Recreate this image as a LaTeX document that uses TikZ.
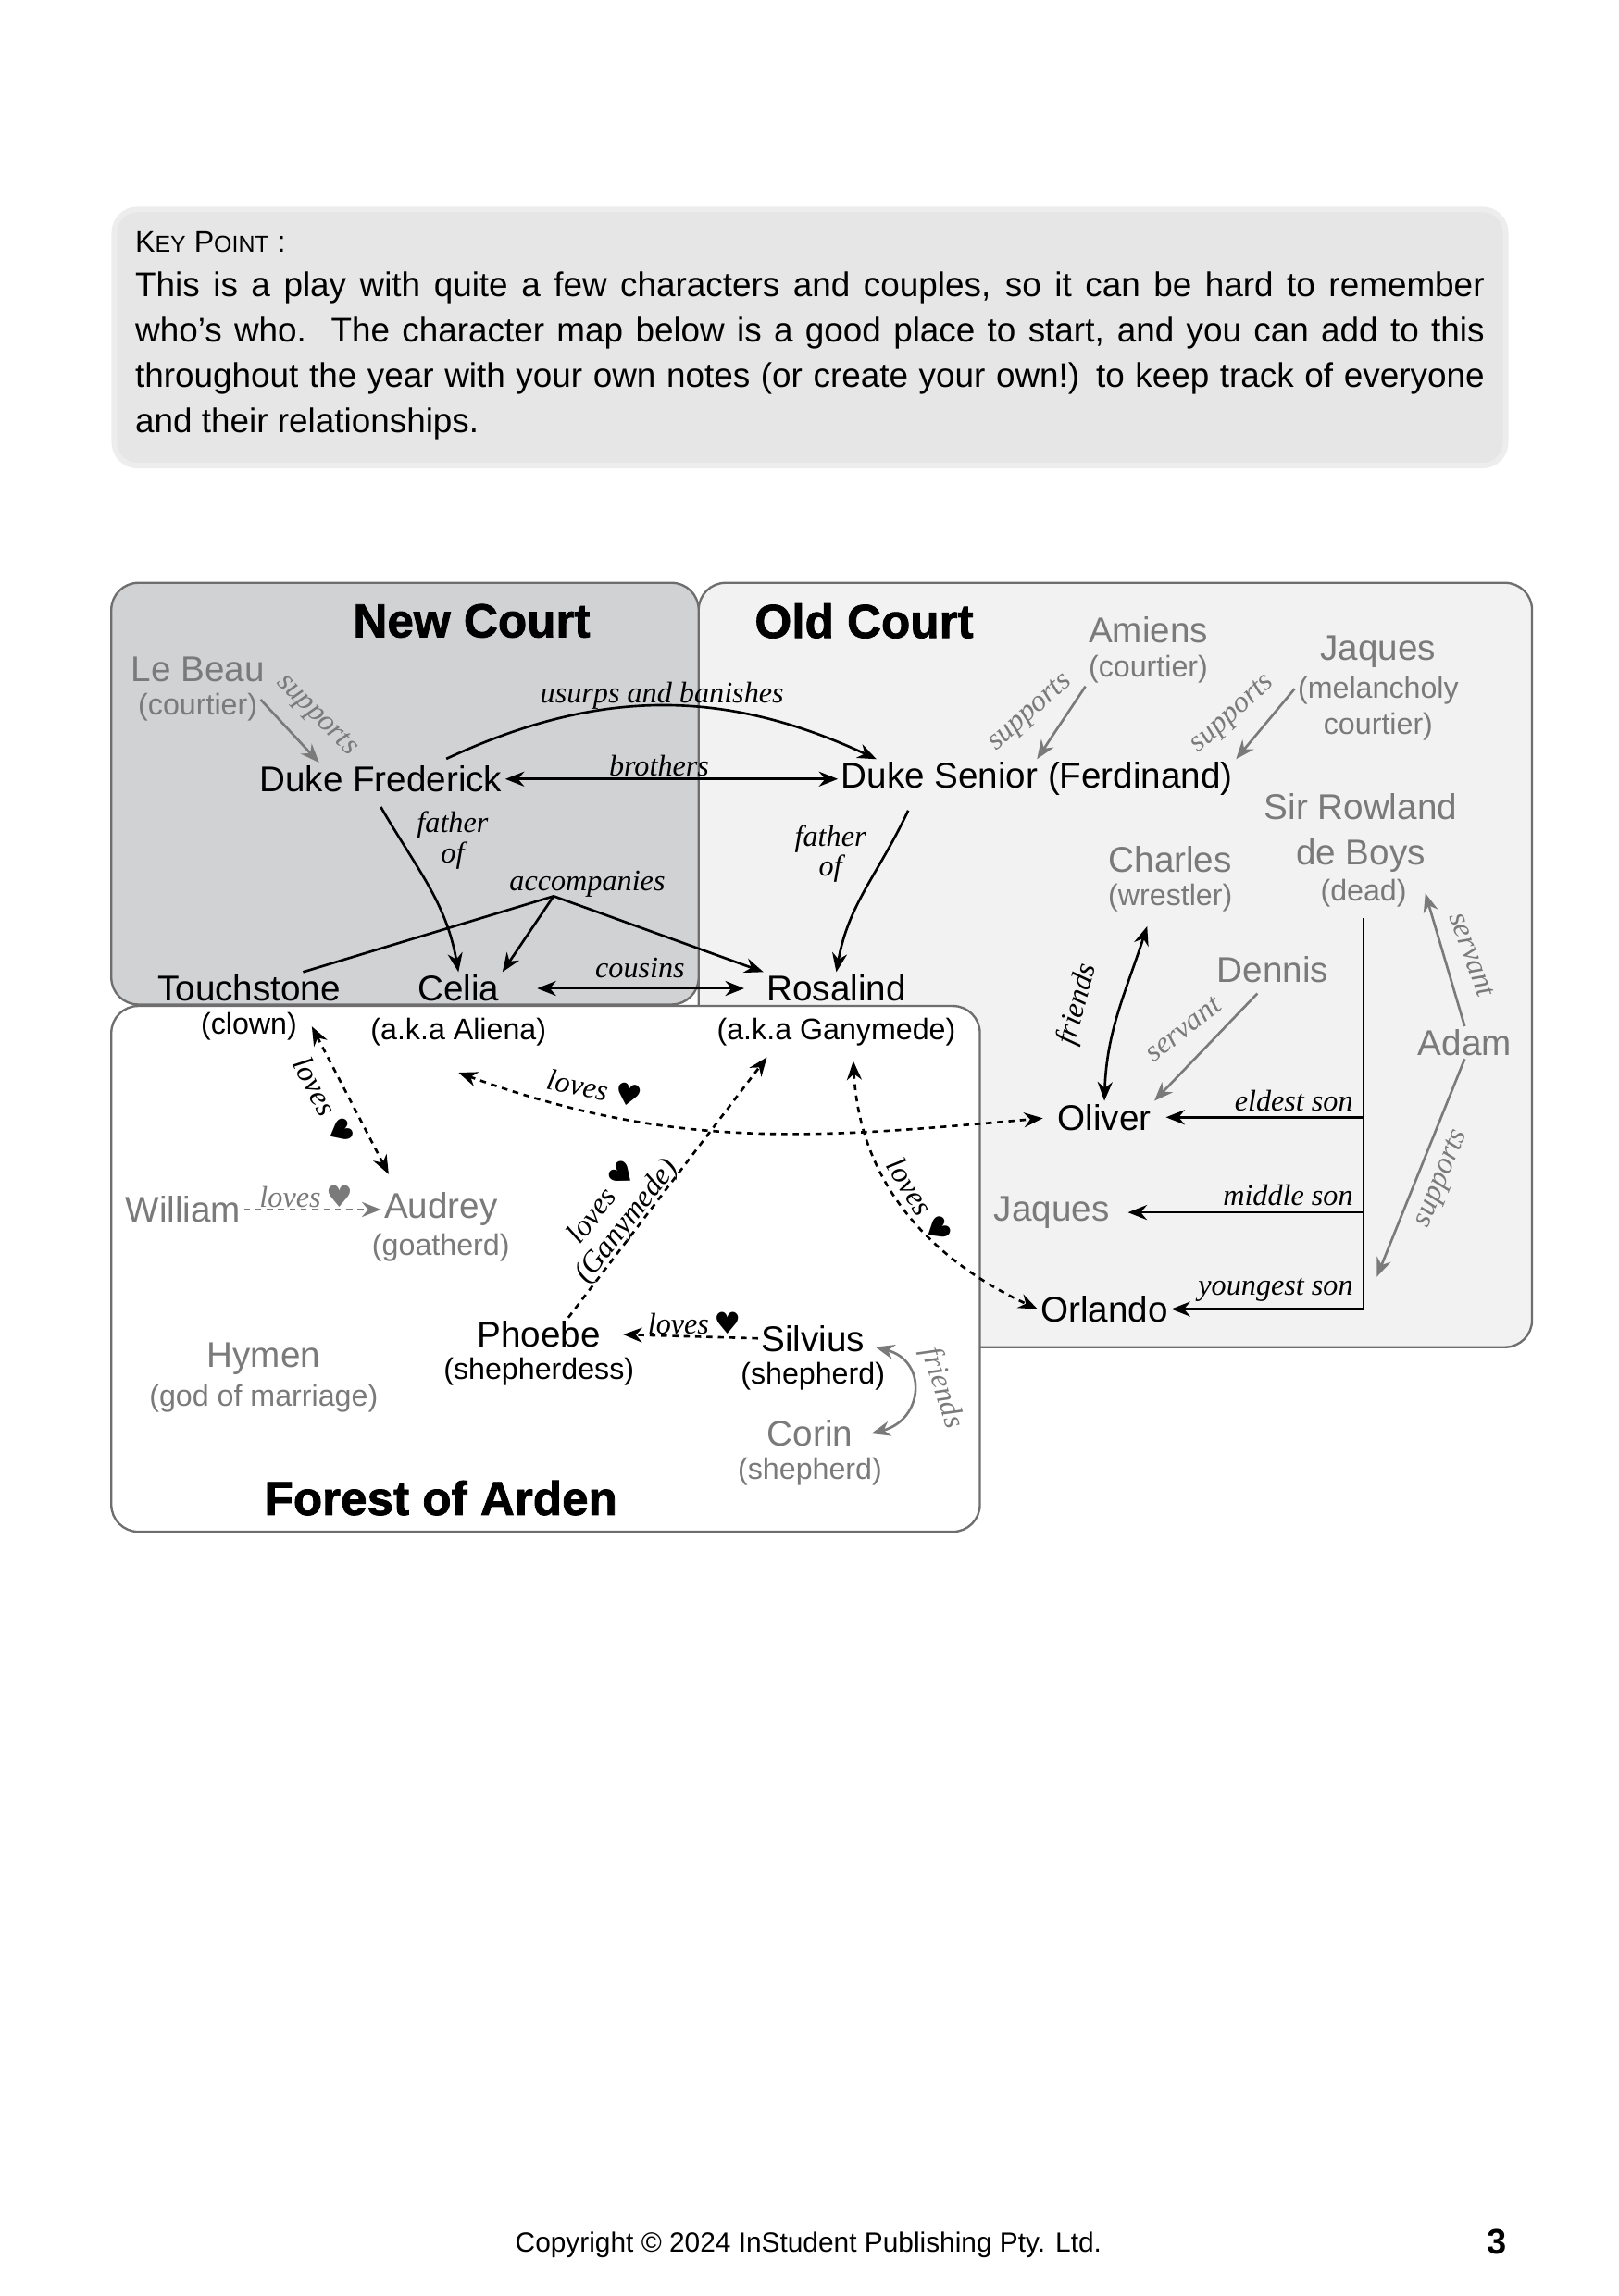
\documentclass[tikz,border=0pt]{standalone}
\usepackage{fontspec}
\usepackage{xcolor}
\usepackage{tikz}
\usetikzlibrary{arrows.meta}
\setmainfont{Liberation Sans}
\newfontfamily\titlefont{Liberation Sans}[BoldFeatures={FakeBold=1.5}]
\newfontfamily\handfont{Liberation Serif}
\newfontfamily\symfont{DejaVu Sans}
\definecolor{KeyFill}{HTML}{E6E6E6}
\definecolor{KeyEdge}{HTML}{EDEDED}
\definecolor{NewFill}{HTML}{D1D2D4}
\definecolor{OldFill}{HTML}{F2F2F2}
\definecolor{BoxEdge}{HTML}{6E6E6E}
\definecolor{Faded}{HTML}{7A7A7A}
\newcommand{\hrt}{{\symfont ♥}}

\tikzset{
  person/.style={font=\fontsize{13.2}{16.75}\selectfont, inner sep=1pt},
  role/.style={font=\fontsize{11}{13.5}\selectfont, inner sep=1pt},
  faded/.style={text=Faded},
  area/.style={font=\titlefont\bfseries\fontsize{17.5}{20}\selectfont, inner sep=1pt},
  rel/.style={font=\handfont\itshape\fontsize{11}{9}\selectfont, inner sep=1pt},
  courtbox/.style={draw=BoxEdge, rounded corners=0.35cm, line width=0.8pt},
  tie/.style={line width=0.9pt, -{Stealth[length=7pt,width=5.5pt]}},
  bitie/.style={line width=0.9pt, {Stealth[length=7pt,width=5.5pt]}-{Stealth[length=7pt,width=5.5pt]}},
  fadedtie/.style={tie, draw=Faded},
  fadedbitie/.style={bitie, draw=Faded},
  lovetie/.style={bitie, dash pattern=on 2.2pt off 2pt},
  loveone/.style={tie, dash pattern=on 2.2pt off 2pt},
}

\begin{document}
\begin{tikzpicture}[x=0.019cm, y=-0.019cm]
\useasboundingbox (0,0) rectangle (1105,1568);
% key point box
\draw[KeyEdge, fill=KeyFill, line width=2pt, rounded corners=0.3cm] (78,143) rectangle (1028,318);
\node[anchor=west, inner sep=0pt, font=\fontsize{11}{13}\selectfont] (keyhead) at (92,165) {K{\fontsize{8.5}{10}\selectfont EY} P{\fontsize{8.5}{10}\selectfont OINT} :};
\node[anchor=north west, align=left, inner sep=0pt, font=\fontsize{12.6}{16.75}\selectfont] (keytext) at (92,185) {%
\hbox to 17.5cm{This is a play with quite a few characters and couples, so it can be hard to remember}\\
\hbox to 17.5cm{who’s who.\ \ The character map below is a good place to start, and you can add to this}\\
\hbox to 17.5cm{throughout the year with your own notes (or create your own!) to keep track of everyone}\\
and their relationships.};

% the three places
\draw[courtbox, fill=OldFill] (477,398) rectangle (1046,920);
\draw[courtbox, fill=NewFill] (76,398) rectangle (477,686);
\draw[courtbox, fill=white] (76,687) rectangle (669,1046);
\node[area] (newcourt) at (322,424) {New Court};
\node[area] (oldcourt) at (590,424) {Old Court};
\node[area] (forest) at (301,1023) {Forest of Arden};

% New Court
\node[person, faded] (lebeau) at (135,457) {Le Beau};
\node[role, faded] (lebeaurole) at (135,483) {(courtier)};
\node[person] (frederick) at (260,532) {Duke Frederick};
\node[person] (touchstone) at (170,675) {Touchstone};
\node[role] (clown) at (170,701) {(clown)};
\node[person] (celia) at (313,675) {Celia};
\node[role] (aliena) at (313,705) {(a.k.a Aliena)};

% Old Court
\node[person] (senior) at (708,532) {Duke Senior (Ferdinand)};
\node[person] (rosalind) at (571,675) {Rosalind};
\node[role] (ganymede) at (571,705) {(a.k.a Ganymede)};
\node[person, faded] (amiens) at (784,430) {Amiens};
\node[role, faded] (amiensrole) at (784,457) {(courtier)};
\node[person, faded] (jaques) at (941,445) {Jaques};
\node[role, faded, align=center] (jaquesrole) at (941,484) {(melancholy\\courtier)};
\node[person, faded, align=center] (rowland) at (929,569) {Sir Rowland\\de Boys};
\node[role, faded] (dead) at (931,610) {(dead)};
\node[person, faded] (charles) at (799,587) {Charles};
\node[role, faded] (wrestler) at (799,613) {(wrestler)};
\node[person, faded] (dennis) at (869,662) {Dennis};
\node[person, faded] (adam) at (1000,712) {Adam};
\node[person] (oliver) at (754,763) {Oliver};
\node[person, faded] (jaquesboys) at (718,828) {Jaques};
\node[person] (orlando) at (754,894) {Orlando};

% Forest of Arden
\node[person, faded] (william) at (125,826) {William};
\node[person, faded] (audrey) at (301,826) {Audrey};
\node[role, faded] (goatherd) at (301,852) {(goatherd)};
\node[person, faded] (hymen) at (180,928) {Hymen};
\node[role, faded] (marriage) at (180,955) {(god of marriage)};
\node[person] (phoebe) at (368,911) {Phoebe};
\node[role] (shepherdess) at (368,937) {(shepherdess)};
\node[person] (silvius) at (555,914) {Silvius};
\node[role] (shepherd) at (555,940) {(shepherd)};
\node[person, faded] (corin) at (553,979) {Corin};
\node[role, faded] (corinrole) at (553,1005) {(shepherd)};

% court links
\draw[fadedtie] ([yshift=0.1cm]lebeaurole.east) -- ([xshift=-0.8cm]frederick.north);
\node[rel, faded, rotate=-45] (lebeausup) at (216,489) {supports};
\draw[tie] ([xshift=0.85cm, yshift=0.05cm]frederick.north) to[out=25, in=155] ([xshift=0.5cm]senior.north west);
\node[rel] (usurps) at (452,475) {usurps and banishes};
\draw[bitie] (frederick.east) -- (senior.west);
\node[rel] (brothers) at (450,523) {brothers};
\draw[tie] ([yshift=-0.15cm]frederick.south) to[out=-60, in=100] (celia.north);
\node[rel, align=center] (fredfather) at (309,574) {father\\of};
\draw[tie] ([xshift=-1.67cm, yshift=-0.15cm]senior.south) to[out=-115, in=80] (rosalind.north);
\node[rel, align=center] (seniorfather) at (567,583) {father\\of};
\coordinate (accomp) at (378,612);
\draw[line width=0.9pt] (accomp) -- (touchstone);
\draw[tie] (accomp) -- (celia.north east);
\draw[tie] (accomp) -- (rosalind.north west);
\node[rel] (accomplabel) at (401,604) {accompanies};
\draw[bitie, shorten <=0.45cm, shorten >=0.25cm] (celia.east) -- (rosalind.west);
\node[rel] (cousins) at (437,661) {cousins};
\draw[fadedtie] (amiensrole.south west) -- (senior.north);
\node[rel, faded, rotate=42] (amienssup) at (704,487) {supports};
\draw[fadedtie] ([yshift=-0.2cm]jaquesrole.north west) -- (senior.north east);
\node[rel, faded, rotate=42] (jaquessup) at (842,488) {supports};

% de Boys family
\draw[line width=0.9pt] ([yshift=-0.1cm]dead.south) -- (dead.south |- orlando);
\draw[tie, shorten >=0.15cm] (dead.south |- oliver) -- (oliver.east);
\node[rel, anchor=east] (eldest) at (926,752) {eldest son};
\draw[tie, shorten >=0.2cm] (dead.south |- jaquesboys) -- (jaquesboys.east);
\node[rel, anchor=east] (middle) at (926,816) {middle son};
\draw[tie] (dead.south |- orlando) -- (orlando.east);
\node[rel, anchor=east] (youngest) at (926,881) {youngest son};
\draw[bitie] ([xshift=-0.3cm, yshift=-0.15cm]wrestler.south) to[out=-108, in=88] (oliver.north);
\node[rel, rotate=75] (friendsoc) at (736,686) {friends};
\draw[fadedtie] ([xshift=-0.2cm, yshift=-0.1cm]dennis.south) -- (oliver.north east);
\node[rel, faded, rotate=38] (dennisserv) at (808,703) {servant};
\draw[fadedtie] (adam.north) -- ([xshift=0.2cm]dead.east);
\node[rel, faded, rotate=-70] (adamserv) at (1005,652) {servant};
\coordinate (orlandobranch) at (940,872);
\draw[fadedtie] (adam.south) -- (orlandobranch);
\node[rel, faded, rotate=68] (adamsup) at (985,805) {supports};

% loves
\draw[lovetie] ([xshift=0.15cm]clown.east) -- ([xshift=0.1cm, yshift=0.2cm]audrey.north west);
\node[rel, rotate=-62] (loveta) at (221,752) {loves \hrt};
\draw[loveone, draw=Faded] (william.east) -- (audrey.west);
\node[rel, faded] (lovewa) at (209,817) {loves\,\hrt};
\draw[lovetie, shorten >=0.15cm] ([yshift=-0.3cm]aliena.south) to[out=-20, in=-175] (oliver.west);
\node[rel, rotate=-12] (loveco) at (406,743) {loves \hrt};
\draw[lovetie] ([xshift=0.22cm, yshift=-0.15cm]ganymede.south) to[out=-87, in=155] (orlando.west);
\node[rel, rotate=-58] (lovero) at (628,820) {loves \hrt};
\draw[loveone] ([xshift=0.38cm]phoebe.north) -- ([xshift=-0.9cm, yshift=-0.1cm]ganymede.south);
\node[rel, rotate=52, align=center] (lovepg) at (420,828) {loves \hrt\\[2pt](Ganymede)};
\draw[loveone, shorten >=0.25cm] (silvius.west) -- (phoebe.east);
\node[rel] (lovesp) at (474,904) {loves\,\hrt};
\draw[fadedbitie] ([xshift=0.1cm, yshift=0.1cm]silvius.south east) to[out=-15, in=15, looseness=1.6] ([xshift=0.2cm]corin.east);
\node[rel, faded, rotate=-72] (friendssc) at (643,948) {friends};

% footer
\node[font=\fontsize{10.2}{12}\selectfont] (copyright) at (552,1533) {Copyright © 2024 InStudent Publishing Pty. Ltd.};
\node[font=\bfseries\fontsize{13}{15}\selectfont] (pagenum) at (1022,1531) {3};
\end{tikzpicture}
\end{document}
